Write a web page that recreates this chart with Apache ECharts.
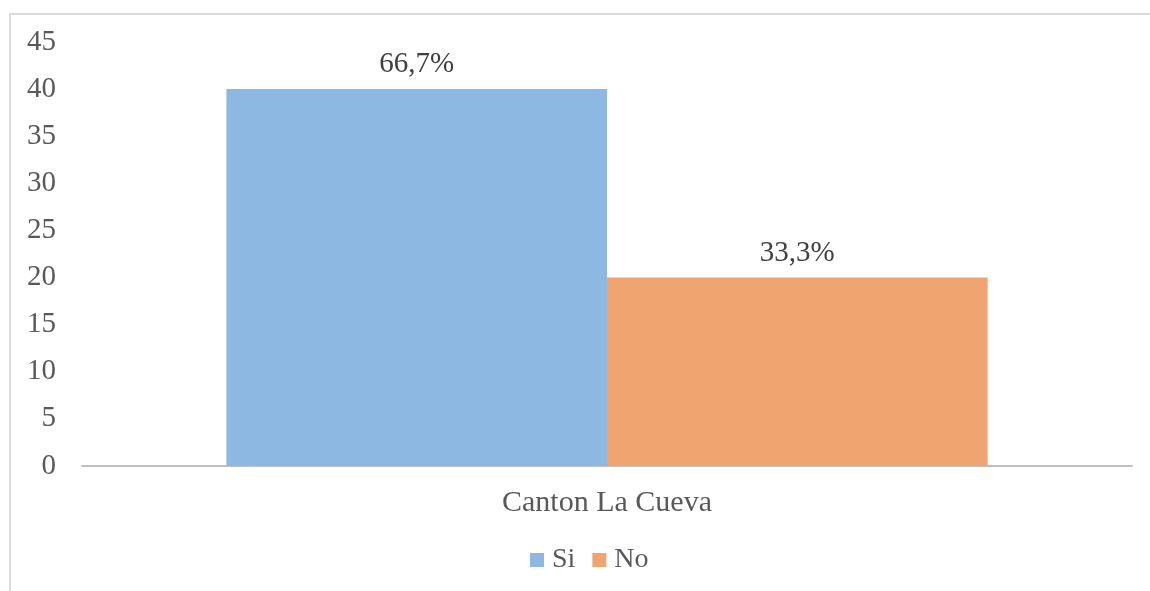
<!DOCTYPE html>
<html>
<head>
<meta charset="utf-8">
<script src="https://cdn.jsdelivr.net/npm/echarts@6/dist/echarts.min.js"></script>
<style>
html, body { margin: 0; padding: 0; background: #fff; }
#frame { position: absolute; left: 9px; top: 13px; width: 1200px; height: 640px; border-top: 2px solid #d9d9d9; border-left: 2px solid #d9d9d9; }
#chart { position: absolute; left: 0; top: 0; width: 1150px; height: 591px; }
</style>
</head>
<body>
<div id="frame"></div>
<div id="chart"></div>
<script>
// data
const categories = ['Canton La Cueva'];
const seriesNames = ['Si', 'No'];
const siValues = [40];
const noValues = [20];
const pctLabels = ['66,7%', '33,3%'];
const colors = ['#8db8e1', '#f0a46f'];

const font = '"Liberation Serif", "Times New Roman", serif';
let chart = echarts.init(document.getElementById('chart'));
chart.setOption({
	animation: false,
	textStyle: { fontFamily: font },
	grid: { left: 82, right: 18, top: 42, bottom: 125, containLabel: false },
	legend: {
		top: 541,
		left: 525,
		itemWidth: 14,
		itemHeight: 14,
		itemGap: 17,
		icon: 'rect',
		data: seriesNames,
		textStyle: { fontFamily: font, fontSize: 28, color: '#595959', padding: [0, 0, 0, 3] }
	},
	xAxis: {
		type: 'category',
		data: categories,
		axisLine: { lineStyle: { color: '#bfbfbf', width: 2 } },
		axisTick: { show: false },
		axisLabel: { fontFamily: font, fontSize: 30, color: '#595959', margin: 22 }
	},
	yAxis: {
		type: 'value',
		min: 0,
		max: 45,
		interval: 5,
		splitLine: { show: false },
		axisLine: { show: false },
		axisTick: { show: false },
		axisLabel: { fontFamily: font, fontSize: 29, color: '#595959', margin: 26 }
	},
	series: [
		{
			name: seriesNames[0],
			type: 'bar',
			data: siValues,
			barGap: '0%',
			barCategoryGap: '27.5%',
			itemStyle: { color: colors[0] },
			label: { show: true, position: 'top', distance: 10, formatter: () => pctLabels[0], fontFamily: font, fontSize: 29, color: '#404040' }
		},
		{
			name: seriesNames[1],
			type: 'bar',
			data: noValues,
			itemStyle: { color: colors[1] },
			label: { show: true, position: 'top', distance: 10, formatter: () => pctLabels[1], fontFamily: font, fontSize: 29, color: '#404040' }
		}
	]
});
</script>
</body>
</html>
